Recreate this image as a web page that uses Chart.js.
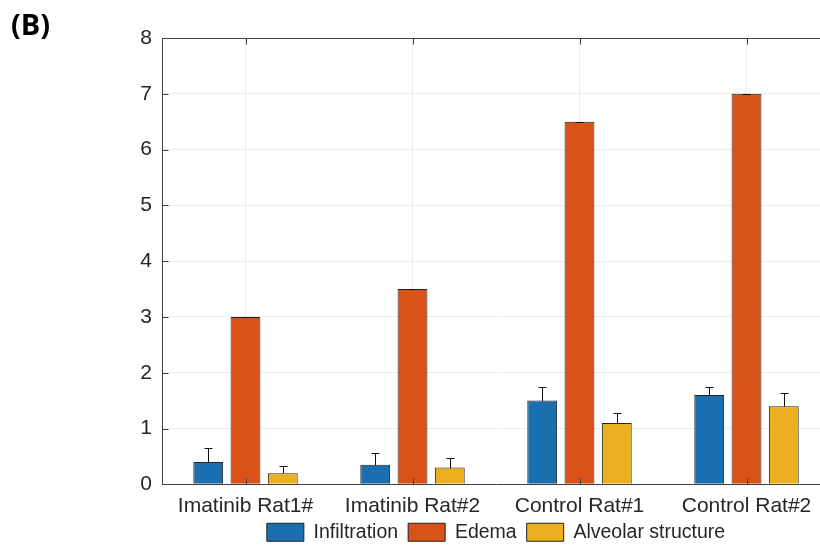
<!DOCTYPE html>
<html>
<head>
<meta charset="utf-8">
<script src="https://cdn.jsdelivr.net/npm/chart.js@4"></script>
<style>
  body { margin: 0; width: 820px; height: 552px; overflow: hidden; background: #fff; }
  #wrap { position: relative; width: 840px; height: 552px; }
  #panel { position: absolute; left: 11px; top: 4px; font: bold 29px "Open Sans", "Noto Sans", sans-serif; color: #000; }
</style>
</head>
<body>
<div id="wrap">
  <canvas id="barChart" width="840" height="552"></canvas>
  <div id="panel">(B)</div>
</div>
<script>
const categories = ['Imatinib Rat1#', 'Imatinib Rat#2', 'Control Rat#1', 'Control Rat#2'];
const seriesNames = ['Infiltration', 'Edema', 'Alveolar structure'];

const infiltration = [0.4, 0.35, 1.5, 1.6];
const infiltrationErr = [0.25, 0.21, 0.24, 0.15];
const edema = [3.0, 3.5, 6.5, 7.0];
const edemaErr = [0, 0, 0, 0];
const alveolar = [0.2, 0.3, 1.1, 1.4];
const alveolarErr = [0.13, 0.18, 0.17, 0.23];

const yMin = 0;
const yMax = 8;

const axisColor = '#404040';
const textColor = '#262626';

// error bars, only the upper half like the original
const errorBars = {
    id: 'errorBars',
    afterDatasetsDraw(chart) {
        const { ctx } = chart;
        const y = chart.scales.y;
        ctx.save();
        ctx.strokeStyle = '#111';
        ctx.lineWidth = 1;
        chart.data.datasets.forEach((ds, i) => {
            chart.getDatasetMeta(i).data.forEach((bar, j) => {
                const x = Math.round(bar.x) + 0.5;
                const y0 = Math.round(y.getPixelForValue(ds.data[j])) + 0.5;
                const y1 = Math.round(y.getPixelForValue(ds.data[j] + ds.errors[j])) + 0.5;
                ctx.beginPath();
                ctx.moveTo(x, y0);
                ctx.lineTo(x, y1);
                ctx.moveTo(x - 4, y1);
                ctx.lineTo(x + 4, y1);
                ctx.stroke();
            });
        });
        ctx.restore();
    }
};

// MATLAB style inward ticks and top box line
const boxTicks = {
    id: 'boxTicks',
    afterDatasetsDraw(chart) {
        const { ctx, chartArea } = chart;
        const { x, y } = chart.scales;
        ctx.save();
        ctx.strokeStyle = axisColor;
        ctx.lineWidth = 1;
        ctx.beginPath();
        const top = Math.round(chartArea.top) + 0.5;
        const bottom = Math.round(chartArea.bottom) + 0.5;
        const left = Math.round(chartArea.left) + 0.5;
        ctx.moveTo(left, top);
        ctx.lineTo(chartArea.right, top);
        y.ticks.forEach((t, i) => {
            const py = Math.round(y.getPixelForTick(i)) + 0.5;
            ctx.moveTo(left, py);
            ctx.lineTo(left + 6, py);
        });
        x.ticks.forEach((t, i) => {
            const px = Math.round(x.getPixelForTick(i)) + 0.5;
            ctx.moveTo(px, bottom);
            ctx.lineTo(px, bottom - 6);
            ctx.moveTo(px, top);
            ctx.lineTo(px, top + 6);
        });
        ctx.stroke();
        ctx.restore();
    }
};

const ctx = document.getElementById('barChart').getContext('2d');

new Chart(ctx, {
    type: 'bar',
    data: {
        labels: categories,
        datasets: [
            {
                label: seriesNames[0],
                data: infiltration,
                errors: infiltrationErr,
                backgroundColor: '#1a6faf',
                borderColor: '#222',
                borderWidth: 1
            },
            {
                label: seriesNames[1],
                data: edema,
                errors: edemaErr,
                backgroundColor: '#d95319',
                borderColor: '#222',
                borderWidth: 1
            },
            {
                label: seriesNames[2],
                data: alveolar,
                errors: alveolarErr,
                backgroundColor: '#ebb020',
                borderColor: '#222',
                borderWidth: 1
            }
        ]
    },
    options: {
        responsive: false,
        animation: false,
        categoryPercentage: 0.67,
        barPercentage: 0.8,
        layout: {
            padding: { left: 0, top: 38, right: 10, bottom: 0 }
        },
        plugins: {
            tooltip: { enabled: false },
            legend: {
                position: 'bottom',
                fullSize: false,
                labels: {
                    boxWidth: 37,
                    boxHeight: 18,
                    padding: 10,
                    color: textColor,
                    font: { family: 'Liberation Sans', size: 19.5 }
                }
            }
        },
        scales: {
            x: {
                grid: { offset: false, color: '#ebebeb', drawTicks: false },
                border: { color: axisColor, width: 1 },
                ticks: {
                    color: textColor,
                    padding: 9,
                    font: { family: 'Liberation Sans', size: 21 }
                },
                afterFit(scale) { scale.height = scale.height - 15; }
            },
            y: {
                min: yMin,
                max: yMax,
                grid: { color: '#ebebeb', drawTicks: false },
                border: { color: axisColor, width: 1 },
                ticks: {
                    stepSize: 1,
                    color: textColor,
                    padding: 10,
                    font: { family: 'Liberation Sans', size: 21 }
                },
                afterFit(scale) { scale.width = 162; }
            }
        }
    },
    plugins: [errorBars, boxTicks]
});
</script>
</body>
</html>
